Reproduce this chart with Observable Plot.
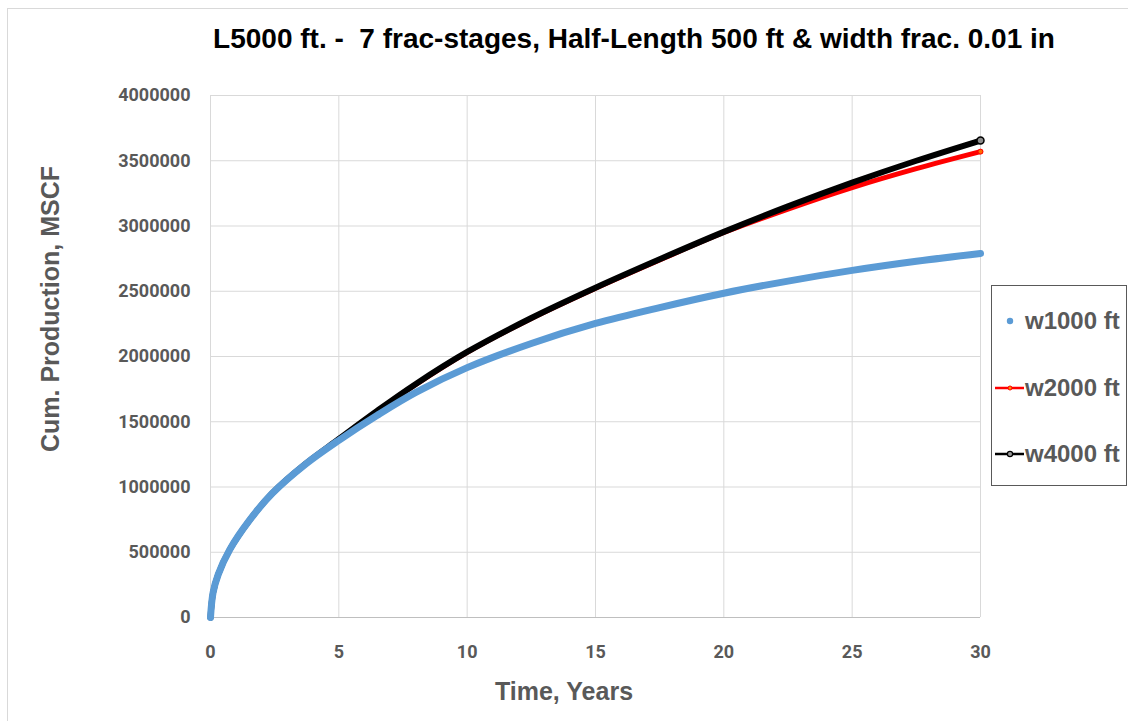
<!DOCTYPE html>
<html>
<head>
<meta charset="utf-8">
<script src="https://cdn.jsdelivr.net/npm/d3@7"></script>
<script src="https://cdn.jsdelivr.net/npm/@observablehq/plot@0.6"></script>
<style>
  html, body { margin: 0; padding: 0; background: #fff; }
  #wrap { position: relative; width: 1128px; height: 721px; overflow: hidden; font-family: "Liberation Sans Narrow", "Liberation Sans", sans-serif; }
  #frame { position: absolute; left: 7px; top: 8px; width: 1200px; height: 800px; border-left: 1.5px solid #d9d9d9; border-top: 1.5px solid #d9d9d9; }
  #chart { position: absolute; left: 0; top: 0; }
  #title { position: absolute; left: 0; width: 1268px; top: 23px; text-align: center; font-size: 28px; font-weight: bold; color: #000; white-space: nowrap; }
  #ylabel { position: absolute; left: 50px; top: 309px; transform: translate(-50%, -50%) rotate(-90deg); font-size: 25px; font-weight: bold; color: #595959; white-space: nowrap; }
  #xlabel { position: absolute; left: 564px; top: 691px; transform: translate(-50%, -50%); font-size: 25px; font-weight: bold; color: #595959; white-space: nowrap; }
  #legend { position: absolute; left: 991px; top: 285px; width: 136px; height: 201px; border: 1px solid #595959; box-sizing: border-box; background: #fff; }
  .item { position: absolute; left: 0; height: 30px; width: 136px; }
  .item span { position: absolute; left: 33px; top: 0; line-height: 30px; font-size: 24px; font-weight: bold; color: #595959; white-space: nowrap; }
  .item svg { position: absolute; left: 2px; top: 0; }
</style>
</head>
<body>
<div id="wrap">
  <div id="frame"></div>
  <div id="chart"></div>
  <div id="title">L5000 ft. -&nbsp; 7 frac-stages, Half-Length 500 ft &amp; width frac. 0.01 in</div>
  <div id="ylabel">Cum. Production, MSCF</div>
  <div id="xlabel">Time, Years</div>
  <div id="legend"></div>
</div>
<script>
// Time, years
const times = [0, 0.1, 0.3, 0.75, 1.5, 2.4, 3.7, 5, 6.5, 8, 10, 12.5, 15, 17.5, 20, 22.5, 25, 27.5, 30];
// Cumulative production, MSCF
const w1000 = [0, 190000, 330000, 520000, 740000, 950000, 1175000, 1358000, 1550000, 1725000, 1915000, 2100000, 2253000, 2375000, 2485000, 2578000, 2660000, 2730000, 2790000];
const w2000 = [0, 190000, 330000, 520000, 740000, 951000, 1177000, 1366000, 1582000, 1786000, 2032000, 2292000, 2523000, 2740000, 2950000, 3130000, 3295000, 3440000, 3570000];
const w4000 = [0, 190000, 330000, 520000, 740000, 951000, 1177000, 1368000, 1585000, 1790000, 2035000, 2295000, 2527000, 2745000, 2955000, 3150000, 3332000, 3500000, 3655000];
const seriesNames = ["w1000 ft", "w2000 ft", "w4000 ft"];
const seriesColors = ["#5b9bd5", "#ff0000", "#000000"];
const xTicks = [0, 5, 10, 15, 20, 25, 30];
const yTicks = [0, 500000, 1000000, 1500000, 2000000, 2500000, 3000000, 3500000, 4000000];

const rows = s => times.map((t, i) => ({t, v: s[i]}));
const blue = rows(w1000), red = rows(w2000), black = rows(w4000);

const chart = Plot.plot({
  width: 1128, height: 721,
  marginLeft: 210, marginRight: 148, marginTop: 95, marginBottom: 104,
  style: { fontFamily: "Roboto, sans-serif", color: "#595959", background: "transparent", overflow: "visible" },
  x: { domain: [0, 30] },
  y: { domain: [0, 4000000] },
  marks: [
    Plot.gridX(xTicks, { stroke: "#d9d9d9", strokeOpacity: 1, strokeWidth: 1 }),
    Plot.gridY(yTicks, { stroke: "#d9d9d9", strokeOpacity: 1, strokeWidth: 1 }),
    Plot.ruleY([0], { stroke: "#bfbfbf", strokeWidth: 1.2 }),
    Plot.axisX(xTicks, { tickSize: 0, tickPadding: 28, fontSize: 18, fontWeight: "bold", label: null, tickFormat: d3.format("d") }),
    Plot.axisY(yTicks, { tickSize: 0, tickPadding: 20, fontSize: 18, fontWeight: "bold", label: null, tickFormat: d3.format("d") }),
    Plot.line(red, { x: "t", y: "v", stroke: seriesColors[1], strokeWidth: 5, curve: "catmull-rom" }),
    Plot.line(black, { x: "t", y: "v", stroke: seriesColors[2], strokeWidth: 6, curve: "catmull-rom" }),
    Plot.line(blue, { x: "t", y: "v", stroke: seriesColors[0], strokeWidth: 7, curve: "catmull-rom" }),
    Plot.dot(red.slice(-1), { x: "t", y: "v", r: 2.5, fill: "#ff6a00", stroke: "#ff0000", strokeWidth: 1 }),
    Plot.dot(black.slice(-1), { x: "t", y: "v", r: 3.5, fill: "#8c8c8c", stroke: "#000", strokeWidth: 1.5 })
  ]
});
document.getElementById("chart").appendChild(chart);

// legend
const legend = document.getElementById("legend");
const tops = [20, 87, 153];
seriesNames.forEach((name, i) => {
  const item = document.createElement("div");
  item.className = "item";
  item.style.top = tops[i] + "px";
  let sym;
  if (i === 0) sym = `<svg width="30" height="30"><circle cx="16" cy="15" r="3.2" fill="${seriesColors[0]}"/></svg>`;
  else if (i === 1) sym = `<svg width="30" height="30"><line x1="1" x2="30" y1="15" y2="15" stroke="#ff0000" stroke-width="2.5"/><circle cx="16" cy="15" r="2" fill="#ff8c00" stroke="#ff0000" stroke-width="1"/></svg>`;
  else sym = `<svg width="30" height="30"><line x1="1" x2="30" y1="15" y2="15" stroke="#000" stroke-width="2.5"/><circle cx="16" cy="15" r="2.6" fill="#9a9a9a" stroke="#000" stroke-width="1.2"/></svg>`;
  item.innerHTML = sym + `<span>${name}</span>`;
  legend.appendChild(item);
});
</script>
</body>
</html>
